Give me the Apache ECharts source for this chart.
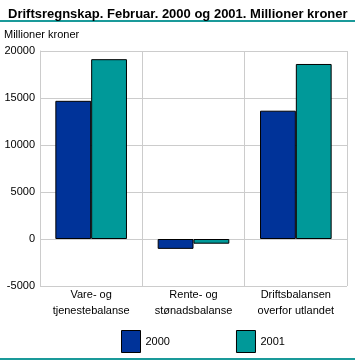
<!DOCTYPE html>
<html><head><meta charset="utf-8">
<script src="https://cdn.jsdelivr.net/npm/echarts@6/dist/echarts.min.js"></script>
<style>html,body{margin:0;padding:0;background:#fff}#c{width:355px;height:361px}</style>
</head><body><div id="c"></div>
<script>
const categories = ['Vare- og\ntjenestebalanse', 'Rente- og\nstønadsbalanse', 'Driftsbalansen\noverfor utlandet'];
const series2000 = [14700, -1050, 13650];
const series2001 = [19130, -500, 18620];
const seriesNames = ['2000', '2001'];
const FONT = 'Liberation Sans';
const chart = echarts.init(document.getElementById('c'), null, {renderer: 'canvas'});
chart.setOption({
  animation: false,
  textStyle: {fontFamily: FONT},
  title: {text: 'Driftsregnskap. Februar. 2000 og 2001. Millioner kroner', left: 3, top: 3,
    textStyle: {fontFamily: FONT, fontSize: 13, fontWeight: 'bold', color: '#000'}},
  graphic: [
    {type: 'rect', shape: {x: 0, y: 20, width: 355, height: 2}, style: {fill: '#1a9a9a'}},
    {type: 'rect', shape: {x: 0, y: 358, width: 355, height: 2}, style: {fill: '#1a9a9a'}},
    {type: 'text', left: 4, top: 29, style: {text: 'Millioner kroner', fontFamily: FONT, fontSize: 11, fill: '#000'}}
  ],
  legend: {left: 121, top: 330, padding: 0, itemWidth: 19, itemHeight: 22, itemGap: 66, icon: 'rect',
    textStyle: {fontFamily: FONT, fontSize: 11, color: '#000'},
    itemStyle: {borderColor: '#000', borderWidth: 1}},
  grid: {left: 40, right: 8, top: 51, bottom: 75, containLabel: false, outerBoundsMode: 'none'},
  xAxis: {type: 'category', data: categories,
    axisLine: {show: false}, axisTick: {show: false},
    splitLine: {show: true, lineStyle: {color: '#ccc'}},
    axisLabel: {fontFamily: FONT, fontSize: 11, color: '#000', lineHeight: 16, margin: 1, interval: 0}},
  yAxis: {type: 'value', min: -5000, max: 20000, interval: 5000,
    axisLine: {show: true, lineStyle: {color: '#ccc'}}, axisTick: {show: false},
    splitLine: {lineStyle: {color: '#ccc'}},
    axisLabel: {fontFamily: FONT, fontSize: 11, color: '#000', margin: 5, formatter: v => String(v)}},
  series: [
    {name: seriesNames[0], type: 'bar', data: series2000, barGap: '0%', barCategoryGap: '30%',
      itemStyle: {color: '#003399', borderColor: '#000', borderWidth: 1}},
    {name: seriesNames[1], type: 'bar', data: series2001, barGap: '0%', barCategoryGap: '30%',
      itemStyle: {color: '#009999', borderColor: '#000', borderWidth: 1}}
  ]
});
</script></body></html>
